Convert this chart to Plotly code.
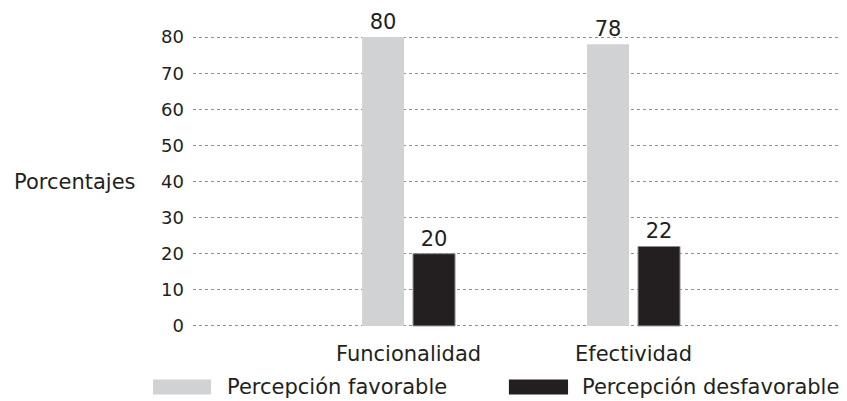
import plotly.graph_objects as go

categories = ["Funcionalidad", "Efectividad"]
series_names = ["Percepción favorable", "Percepción desfavorable"]
favorable = [80, 78]
desfavorable = [20, 22]
y_ticks = [0, 10, 20, 30, 40, 50, 60, 70, 80]
y_title = "Porcentajes"

colors = ["#d1d2d4", "#231f20"]
FONT = "DejaVu Sans"

fig = go.Figure()
fig.add_trace(go.Bar(
    x=categories, y=favorable, name=series_names[0],
    marker=dict(color=colors[0], line=dict(width=0)),
    text=[str(v) for v in favorable], textposition="outside",
    textfont=dict(size=21, color="#231f20", family=FONT),
    cliponaxis=False, showlegend=False,
))
fig.add_trace(go.Bar(
    x=categories, y=desfavorable, name=series_names[1],
    marker=dict(color=colors[1], line=dict(width=1, color="#8c8c8c")),
    text=[str(v) for v in desfavorable], textposition="outside",
    textfont=dict(size=21, color="#231f20", family=FONT),
    cliponaxis=False, showlegend=False,
))

fig.update_layout(
    width=839, height=393,
    margin=dict(l=185, r=4, t=28, b=74),
    paper_bgcolor="white", plot_bgcolor="white",
    barmode="group", bargap=0.547, bargroupgap=0.176,
    font=dict(family=FONT, color="#231f20"),
    xaxis=dict(
        type="category", range=[-0.958, 1.931],
        showgrid=False, zeroline=False, showline=False,
        tickfont=dict(size=21, family=FONT, color="#231f20"),
        ticks="", ticklabelstandoff=12,
    ),
    yaxis=dict(
        range=[-0.3, 80.3], tickvals=y_ticks,
        showgrid=True, gridcolor="#8f8f8f", gridwidth=1.1, griddash="3px,3px",
        zeroline=False, showline=False, ticks="",
        tickfont=dict(size=18, family=FONT, color="#231f20"),
        ticklabelstandoff=8,
    ),
)

fig.add_annotation(
    text=y_title, xref="paper", yref="paper", x=-0.278, y=0.5,
    xanchor="left", yanchor="middle", showarrow=False,
    font=dict(size=21, family=FONT, color="#231f20"),
)

# custom legend
legend_pos = [(-0.0615, 0.0277, 0.0492), (0.486, 0.577, 0.5954)]
for (x0, x1, tx), name, col in zip(legend_pos, series_names, colors):
    fig.add_shape(type="rect", xref="paper", yref="paper",
                  x0=x0, x1=x1, y0=-0.232, y1=-0.180,
                  fillcolor=col, line=dict(width=0))
    fig.add_annotation(text=name, xref="paper", yref="paper", x=tx, y=-0.206,
                       xanchor="left", yanchor="middle", showarrow=False,
                       font=dict(size=21, family=FONT, color="#231f20"))

fig.write_html("out.html")
